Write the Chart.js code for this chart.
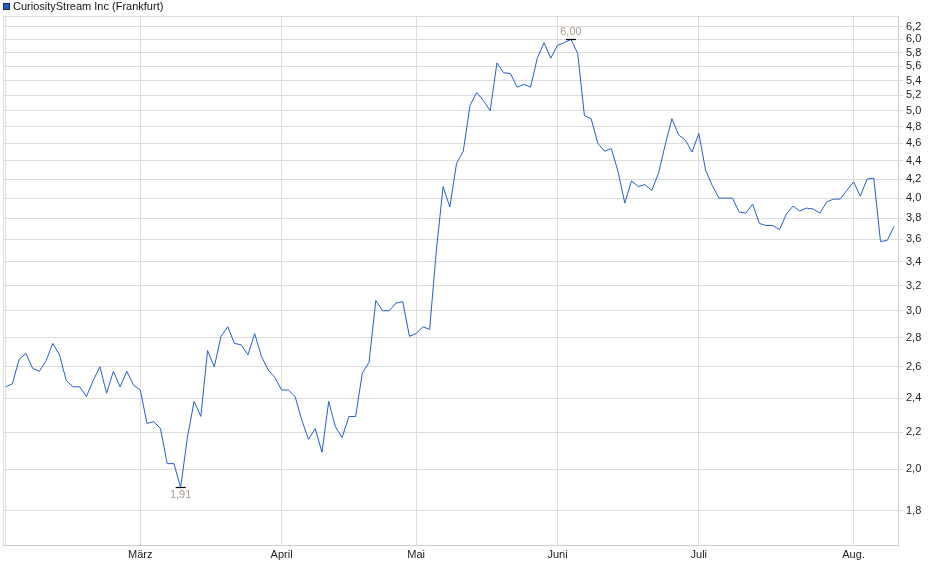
<!DOCTYPE html>
<html>
<head>
<meta charset="utf-8">
<script src="https://cdn.jsdelivr.net/npm/chart.js@4.4.0/dist/chart.umd.min.js"></script>
<style>
  html, body { margin: 0; padding: 0; background: #fff; }
  #wrap { width: 940px; height: 579px; }
</style>
</head>
<body>
<div id="wrap"><canvas id="myChart" width="940" height="579"></canvas></div>
<script>
// daily closes, Frankfurt, Feb - Aug (one value per trading day)
const seriesName = 'CuriosityStream Inc (Frankfurt)';
const prices = [
  2.47, 2.49, 2.65, 2.69, 2.59, 2.57, 2.64, 2.76, 2.68, 2.51, 2.47, 2.47, 2.41, 2.51, 2.60, 2.43, 2.57, 2.47, 2.57, 2.48,
  2.45, 2.25, 2.26, 2.22, 2.03, 2.03, 1.91, 2.17, 2.38, 2.29, 2.71, 2.60, 2.81, 2.88, 2.76, 2.75, 2.68, 2.83, 2.67, 2.58, 2.53,
  2.45, 2.45, 2.41, 2.27, 2.16, 2.22, 2.09, 2.38, 2.23, 2.17, 2.29, 2.29, 2.56, 2.63, 3.08, 3.00, 3.00, 3.06, 3.07, 2.81,
  2.83, 2.88, 2.86, 3.50, 4.12, 3.91, 4.37, 4.51, 5.07, 5.24, 5.13, 5.00, 5.65, 5.51, 5.50, 5.31, 5.35, 5.31, 5.72, 5.95, 5.72,
  5.91, 5.95, 6.00, 5.79, 4.94, 4.90, 4.60, 4.51, 4.54, 4.28, 3.95, 4.18, 4.12, 4.14, 4.08, 4.26, 4.58, 4.90, 4.70, 4.64, 4.50,
  4.72, 4.30, 4.13, 4.00, 4.00, 4.00, 3.86, 3.85, 3.94, 3.75, 3.73, 3.73, 3.69, 3.84, 3.92, 3.87, 3.90, 3.89, 3.85, 3.96, 3.99, 3.99, 4.08,
  4.17, 4.02, 4.20, 4.21, 3.58, 3.59, 3.72
];
// index of first trading day of each month and its label
const monthStarts = [0, 20, 41, 61, 82, 103, 126];
const monthLabels = ['', 'März', 'April', 'Mai', 'Juni', 'Juli', 'Aug.'];
const yTicks = [1.8, 2.0, 2.2, 2.4, 2.6, 2.8, 3.0, 3.2, 3.4, 3.6, 3.8, 4.0, 4.2, 4.4, 4.6, 4.8, 5.0, 5.2, 5.4, 5.6, 5.8, 6.0, 6.2];

const xMin = -0.4, xMax = 132.6;
const yMin = 1.649, yMax = 6.37;
const lineColor = '#1f5fcc';
const FONT = '"Liberation Sans", Arial, sans-serif';

const fmt = v => v.toFixed(2).replace('.', ',');

// legend in the top left corner
const topLegend = {
  id: 'topLegend',
  afterDraw(chart) {
    const c = chart.ctx;
    c.save();
    c.fillStyle = lineColor;
    c.fillRect(3, 3, 7, 7);
    c.strokeStyle = '#1b2a55';
    c.lineWidth = 1;
    c.strokeRect(3.5, 3.5, 6, 6);
    c.font = '11px ' + FONT;
    c.fillStyle = '#111';
    c.textBaseline = 'middle';
    c.fillText(chart.data.datasets[0].label, 13, 7);
    c.restore();
  }
};

// high / low marks with values
const extremes = {
  id: 'extremes',
  afterDatasetsDraw(chart) {
    const c = chart.ctx, xs = chart.scales.x, ys = chart.scales.y;
    const hi = Math.max(...prices), lo = Math.min(...prices);
    const marks = [[prices.indexOf(hi), hi, -1], [prices.indexOf(lo), lo, 1]];
    c.save();
    c.font = '11px ' + FONT;
    c.textAlign = 'center';
    marks.forEach(([i, v, dir]) => {
      const px = xs.getPixelForValue(i), py = Math.round(ys.getPixelForValue(v)) + 0.5;
      c.strokeStyle = '#000';
      c.lineWidth = 1.2;
      c.beginPath(); c.moveTo(px - 5, py); c.lineTo(px + 5, py); c.stroke();
      c.fillStyle = '#a89b8c';
      c.textBaseline = dir < 0 ? 'bottom' : 'top';
      c.fillText(fmt(v), px, py + dir * 2);
    });
    c.restore();
  }
};

const ctx = document.getElementById('myChart');

new Chart(ctx, {
  type: 'line',
  data: {
    datasets: [{
      label: seriesName,
      data: prices.map((v, i) => ({ x: i, y: v })),
      borderColor: lineColor,
      backgroundColor: lineColor,
      borderWidth: 1,
      pointRadius: 0,
      tension: 0,
      fill: false
    }]
  },
  options: {
    responsive: false,
    animation: false,
    layout: { padding: { top: 16, left: 3, right: 0, bottom: 0 } },
    plugins: {
      legend: { display: false },
      tooltip: { enabled: false }
    },
    scales: {
      x: {
        type: 'linear',
        min: xMin,
        max: xMax,
        afterBuildTicks: s => { s.ticks = [xMin].concat(monthStarts).map(v => ({ value: v })); },
        afterFit: s => { s.height = 34; },
        ticks: {
          autoSkip: false,
          maxRotation: 0,
          padding: 3,
          color: '#222',
          font: { family: FONT, size: 11 },
          callback: v => { const k = monthStarts.indexOf(v); return k >= 0 ? monthLabels[k] : ''; }
        },
        grid: { color: '#dcdcdc', drawTicks: false },
        border: { color: '#cfcfcf' }
      },
      y: {
        type: 'logarithmic',
        position: 'right',
        bounds: 'data',
        min: yMin,
        max: yMax,
        afterBuildTicks: s => {
          s.ticks = yTicks.concat([yMax]).map(v => ({ value: v }));
          s.min = yMin;
          s.max = yMax;
        },
        afterFit: s => { s.width = 42; },
        ticks: {
          autoSkip: false,
          padding: 3,
          color: '#222',
          font: { family: FONT, size: 11 },
          callback: v => yTicks.includes(v) ? v.toFixed(1).replace('.', ',') : ''
        },
        grid: {
          color: '#dcdcdc',
          tickLength: 5,
          tickColor: c => (c.tick && c.tick.value !== yMax) ? '#dcdcdc' : 'rgba(0,0,0,0)'
        },
        border: { color: '#cfcfcf' }
      }
    }
  },
  plugins: [topLegend, extremes]
});
</script>
</body>
</html>
